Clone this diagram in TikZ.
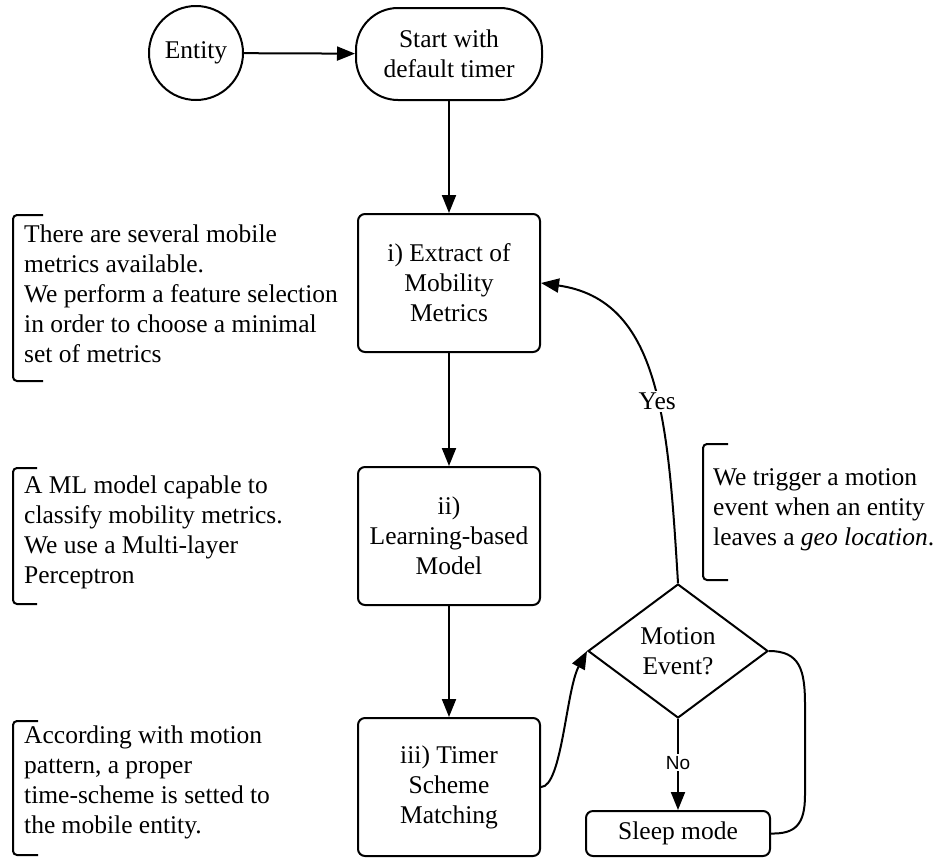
\documentclass[tikz,border=0pt]{standalone}
\usepackage{fontspec}
\setmainfont{Liberation Serif}
\newfontfamily\labelsans{Liberation Sans}
\usetikzlibrary{shapes.geometric,arrows.meta}

\tikzset{
  every node/.style={font=\fontsize{25.5}{30}\selectfont},
  ln/.style={line width=2pt},
  flow/.style={ln, -{Triangle[length=18pt,width=14pt]}},
  stepbox/.style={draw, ln, rounded corners=7pt, minimum width=182pt,
    minimum height=138pt, align=center, inner sep=0pt},
  startbox/.style={draw, ln, rounded corners=42pt, minimum width=186pt,
    minimum height=92pt, align=center, inner sep=0pt},
  entitynode/.style={draw, ln, circle, minimum size=94pt, inner sep=0pt},
  decision/.style={draw, ln, diamond, minimum width=180pt, minimum height=134pt,
    inner sep=0pt, align=center},
  sleepbox/.style={draw, ln, rounded corners=7pt, minimum width=184pt,
    minimum height=45pt, inner sep=0pt},
  note/.style={anchor=west, align=left, inner sep=0pt},
  bracket/.style={ln, rounded corners=4pt},
  edgelabel/.style={fill=white, inner sep=2pt},
}

\begin{document}
\begin{tikzpicture}[x=1pt,y=-1pt]
\useasboundingbox (0,0) rectangle (933,857);

% main flow
\node[entitynode] (entity) at (196,53) {Entity};
\node[startbox] (start) at (449,54) {Start with\\default timer};
\node[stepbox] (extract) at (449,283) {i) Extract of\\Mobility\\Metrics};
\node[stepbox] (learn) at (449,536) {ii)\\Learning-based\\Model};
\node[stepbox] (timer) at (449,787) {iii) Timer\\Scheme\\Matching};
\node[decision] (motion) at (678,651) {Motion\\Event?};
\node[sleepbox] (sleep) at (678,833.5) {Sleep mode};

\draw[flow] (entity) -- (start);
\draw[flow] (start) -- (extract);
\draw[flow] (extract) -- (learn);
\draw[flow] (learn) -- (timer);
\draw[flow] (timer.east) .. controls (562,787) and (566,690) .. (motion.west);
\draw[flow] (motion.north) .. controls (668,420) and (660,300) .. (extract.east)
  node[pos=0.43, edgelabel] (yes) {Yes};
\draw[flow] (motion.south) -- (sleep.north)
  node[pos=0.48, edgelabel, font=\labelsans\fontsize{19}{22}\selectfont] (no) {No};
\draw[ln] (motion.east) .. controls (800,651) and (805,670) .. (805,705)
  -- (805,795) .. controls (805,825) and (795,834) .. (sleep.east);

% side notes
\draw[bracket] (43,215) -- (13,215) -- (13,381) -- (43,381);
\node[note] (note1) at (24,294) {There are several mobile\\metrics available.\\We perform a feature selection\\in order to choose a minimal\\set of metrics};

\draw[bracket] (37,468) -- (13,468) -- (13,604) -- (37,604);
\node[note] (note2) at (24,532) {A ML model capable to\\classify mobility metrics.\\We use a Multi-layer\\Perceptron};

\draw[bracket] (38,721) -- (13,721) -- (13,855) -- (38,855);
\node[note] (note3) at (24,782) {According with motion\\pattern, a proper\\time-scheme is setted to\\the mobile entity.};

\draw[bracket] (728,444) -- (703,444) -- (703,580) -- (728,580);
\node[note] (note4) at (713,510) {We trigger a motion\\event when an entity\\leaves a \textit{geo location}.};
\end{tikzpicture}
\end{document}
